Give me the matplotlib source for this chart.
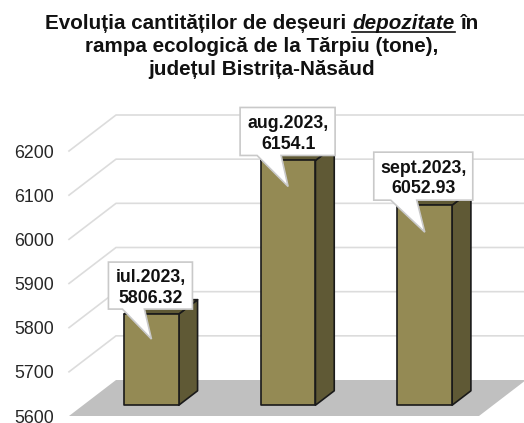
import matplotlib
matplotlib.use('Agg')
import matplotlib.pyplot as plt
from matplotlib.patches import Polygon

months = ['iul.2023', 'aug.2023', 'sept.2023']
tone = [5806.32, 6154.1, 6052.93]
value_labels = ['5806.32', '6154.1', '6052.93']
y_ticks = [5600, 5700, 5800, 5900, 6000, 6100, 6200]

plt.rcParams['font.family'] = ['Liberation Sans', 'DejaVu Sans']

W, H = 524, 423
fig = plt.figure(figsize=(W / 100, H / 100), dpi=100)
# front plane of the fake 3d box, in pixels: x 69-479, y 151-416 from the top
ax = fig.add_axes([69 / W, 1 - 416 / H, 410 / W, 265 / H])
ax.set_xlim(-0.5, 2.5)
ax.set_ylim(5600, 6200)
for s in ax.spines.values():
    s.set_visible(False)
ax.set_xticks([])
ax.set_yticks(y_ticks)
ax.tick_params(axis='y', length=0, pad=11, labelsize=12.8, labelcolor='#262626')
ax.patch.set_visible(False)

xu = 3 / 410      # categories per pixel
yu = 600 / 265    # tonnes per pixel
DX, DY = 47, 36   # depth of the box in pixels


def pt(x, y, depth=0.0, px=0, py=0):
    # px, py are pixel offsets, py going down as in the picture
    return (x + (depth * DX + px) * xu, y + (depth * DY - py) * yu)


def poly(points, **kw):
    ax.add_patch(Polygon(points, closed=True, clip_on=False, **kw))


# floor
poly([pt(-0.5, 5600), pt(2.5, 5600), pt(2.5, 5600, 1), pt(-0.5, 5600, 1)],
     facecolor='#c0c0c0', edgecolor='none', zorder=1)

# grid lines run along the left wall, then along the back wall
for t in y_ticks[1:]:
    xs, ys = zip(pt(-0.5, t), pt(-0.5, t, 1), pt(2.5, t, 1))
    ax.plot(xs, ys, color='#dcdcdc', lw=1.2, clip_on=False, zorder=1)

bar_w = 0.4
d0, d1 = 0.3, 0.7
edge = dict(edgecolor='#1a1a1a', linewidth=1.2, joinstyle='round', zorder=3)
for i, v in enumerate(tone):
    l, r = i - bar_w / 2, i + bar_w / 2
    poly([pt(r, 5600, d0), pt(r, 5600, d1), pt(r, v, d1), pt(r, v, d0)],
         facecolor='#5f5935', **edge)
    poly([pt(l, v, d0), pt(r, v, d0), pt(r, v, d1), pt(l, v, d1)],
         facecolor='#5f5935', **edge)
    poly([pt(l, 5600, d0), pt(r, 5600, d0), pt(r, v, d0), pt(l, v, d0)],
         facecolor='#948a54', **edge)

# callouts: box left/right/top/bottom and tail base, pixels from the tail tip
callouts = [(-43, 41, -77, -30, -29, -7, 25),
            (-48, 47, -79, -31, -31, -7, 26),
            (-51, 48, -80, -32, -34, -8, 27)]
for i, v in enumerate(tone):
    left, right, top, bottom, t0, t1, drop = callouts[i]
    def c(px, py):
        return pt(i, v, d0, px, py + drop)
    poly([c(left, top), c(right, top), c(right, bottom), c(t1, bottom), c(0, 0),
          c(t0, bottom), c(left, bottom)],
         facecolor='white', edgecolor='#c9c9c9', linewidth=1.2, zorder=4)
    x, y = c((left + right) / 2 + 0.5, (top + bottom) / 2 + 2.5)
    ax.text(x, y, f'{months[i]},\n{value_labels[i]}', ha='center', va='center',
            fontsize=12.8, fontweight='bold', color='#111111', zorder=5,
            linespacing=1.27)

# title, first line has an underlined italic word in the middle
title_size = 14.9
title_kw = dict(fontsize=title_size, fontweight='bold', color='#111111', va='baseline')
fig.text(262 / W, 1 - 52 / H, 'rampa ecologică de la Tărpiu (tone),', ha='center', **title_kw)
fig.text(262 / W, 1 - 75 / H, 'județul Bistrița-Năsăud', ha='center', **title_kw)

parts = [('Evoluția cantităților de deșeuri ', 'normal'), ('depozitate', 'italic'), (' în', 'normal')]
rend = fig.canvas.get_renderer()
space = fig.text(0, 0, 'x x', fontsize=title_size, fontweight='bold')
nospace = fig.text(0, 0, 'xx', fontsize=title_size, fontweight='bold')
space_w = space.get_window_extent(rend).width - nospace.get_window_extent(rend).width
space.remove()
nospace.remove()

texts, widths = [], []
for s, style in parts:
    t = fig.text(0, 1 - 29 / H, s.strip(), style=style, ha='left', **title_kw)
    texts.append(t)
    widths.append(t.get_window_extent(rend).width)
total = sum(widths) + 2 * space_w
x = 262 - total / 2
for t, w in zip(texts, widths):
    t.set_x(x / W)
    if t.get_text() == 'depozitate':
        fig.add_artist(plt.Line2D([x / W, (x + w) / W], [1 - 32 / H] * 2, color='#111111', lw=1.2))
    x += w + space_w

fig.savefig('out.png', dpi=100)
